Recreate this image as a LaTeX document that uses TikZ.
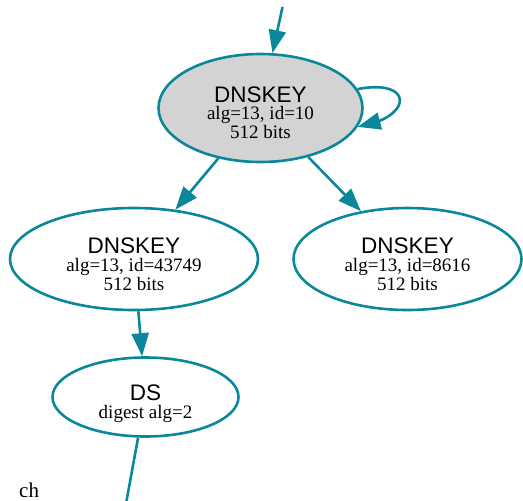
\documentclass[tikz,border=0pt]{standalone}
\usepackage{fontspec}
\setmainfont{Liberation Serif}
\newfontfamily\labelsans{Liberation Sans}
\usetikzlibrary{arrows.meta,shapes.geometric,bending}
\definecolor{secure}{HTML}{0A879A}
\definecolor{keyfill}{HTML}{D3D3D3}

\tikzset{
  rrnode/.style={ellipse, draw=secure, line width=2.6pt, inner sep=0pt},
  rrtitle/.style={anchor=base, inner sep=0pt, font=\labelsans\fontsize{22.5}{22.5}\selectfont},
  rrdetail/.style={anchor=base, inner sep=0pt, font=\fontsize{19}{19}\selectfont},
  rredge/.style={draw=secure, line width=2.6pt, -{Triangle[length=23pt,width=17pt]}},
  rrline/.style={draw=secure, line width=2.6pt},
}

\begin{document}
\begin{tikzpicture}[x=1pt,y=-1pt]
\useasboundingbox (0,0) rectangle (523,501);

% key nodes
\node[rrnode, fill=keyfill, minimum width=204pt, minimum height=108pt] (k10) at (260.5,108) {};
\node[rrnode, minimum width=248pt, minimum height=102pt] (k43749) at (134,259) {};
\node[rrnode, minimum width=228pt, minimum height=102pt] (k8616) at (407.5,259) {};
\node[rrnode, minimum width=186pt, minimum height=79pt] (ds) at (145.5,397) {};

% labels of DNSKEY id=10
\node[rrtitle]  (k10a) at (260.5,102) {DNSKEY};
\node[rrdetail] (k10b) at (260.5,119.5) {alg=13, id=10};
\node[rrdetail] (k10c) at (260.5,138) {512 bits};

% labels of DNSKEY id=43749
\node[rrtitle]  (k43749a) at (134,253) {DNSKEY};
\node[rrdetail] (k43749b) at (134,271) {alg=13, id=43749};
\node[rrdetail] (k43749c) at (134,290) {512 bits};

% labels of DNSKEY id=8616
\node[rrtitle]  (k8616a) at (407.5,253) {DNSKEY};
\node[rrdetail] (k8616b) at (407.5,271) {alg=13, id=8616};
\node[rrdetail] (k8616c) at (407.5,290) {512 bits};

% labels of DS
\node[rrtitle]  (dsa) at (145.5,400) {DS};
\node[rrdetail] (dsb) at (145.5,418.3) {digest alg=2};

% zone label
\node[anchor=base west, inner sep=0pt, font=\fontsize{21}{21}\selectfont] (zone) at (19,497) {ch};

% connectors
\coordinate (incoming) at (282.5,7);
\coordinate (outgoing) at (126.5,501);
\draw[rredge] (incoming) -- (k10);
\draw[rredge] (k10.11) .. controls (414,78) and (414,118) .. (k10.-11);
\draw[rredge] (k10) -- (k43749);
\draw[rredge] (k10) -- (k8616);
\draw[rredge] (k43749) -- (ds);
\draw[rrline] (ds) -- (outgoing);
\end{tikzpicture}
\end{document}
